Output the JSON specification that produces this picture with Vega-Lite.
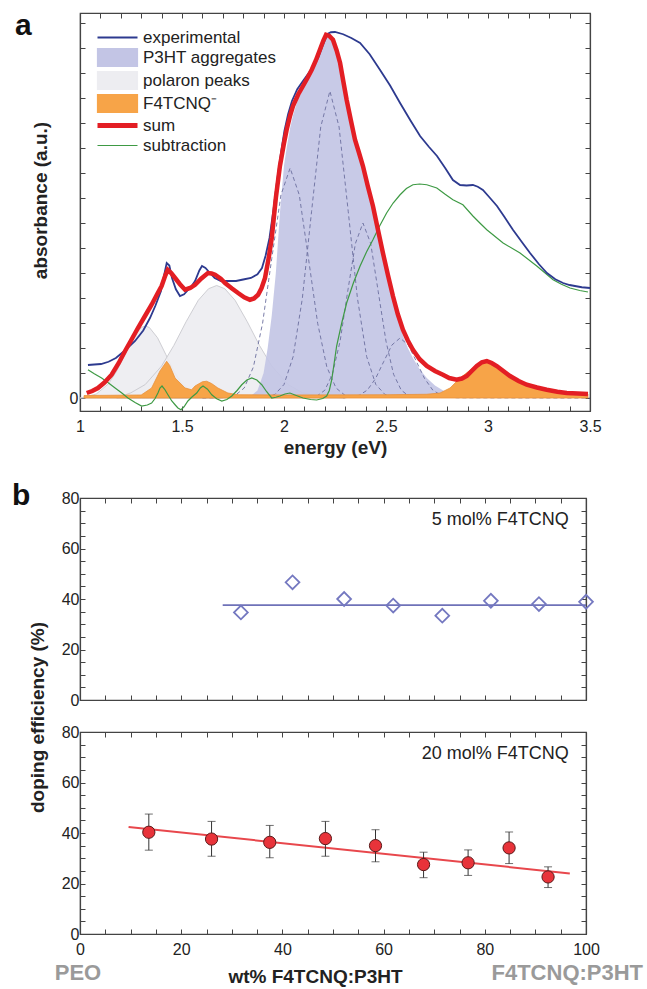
{
  "$schema": "https://vega.github.io/schema/vega-lite/v6.json",
  "background": "white",
  "padding": {"left": 11, "top": 9, "right": 0, "bottom": 0},
  "spacing": 22,
  "config": {
    "font": "Liberation Sans",
    "view": {"stroke": "#444", "strokeWidth": 1.2},
    "axis": {"domainColor": "#444", "domainWidth": 1.2, "tickColor": "#444", "tickWidth": 1, "grid": false, "minExtent": 0,
      "labelFont": "Liberation Sans", "titleFont": "Liberation Sans", "labelFontSize": 16, "titleFontSize": 19,
      "labelColor": "#222", "titleColor": "#222", "titleFontWeight": "bold", "labelOverlap": false, "labelFlush": false},
    "title": {"font": "Liberation Sans", "color": "#111"}
  },
  "datasets": {
    "exp": [
      {"x":1.039,"y":0.132},{"x":1.07,"y":0.134},{"x":1.103,"y":0.136},{"x":1.14,"y":0.145},{"x":1.176,"y":0.16},{"x":1.22,"y":0.19},{"x":1.27,"y":0.228},{"x":1.31,"y":0.27},{"x":1.343,"y":0.32},{"x":1.37,"y":0.37},{"x":1.397,"y":0.428},{"x":1.412,"y":0.49},{"x":1.425,"y":0.54},{"x":1.438,"y":0.53},{"x":1.451,"y":0.48},{"x":1.47,"y":0.435},{"x":1.49,"y":0.408},{"x":1.51,"y":0.415},{"x":1.525,"y":0.428},{"x":1.545,"y":0.445},{"x":1.564,"y":0.468},{"x":1.585,"y":0.51},{"x":1.598,"y":0.528},{"x":1.615,"y":0.52},{"x":1.637,"y":0.5},{"x":1.66,"y":0.48},{"x":1.691,"y":0.468},{"x":1.73,"y":0.468},{"x":1.765,"y":0.468},{"x":1.8,"y":0.474},{"x":1.838,"y":0.48},{"x":1.87,"y":0.495},{"x":1.892,"y":0.52},{"x":1.91,"y":0.57},{"x":1.929,"y":0.64},{"x":1.948,"y":0.75},{"x":1.966,"y":0.868},{"x":1.985,"y":0.98},{"x":2.002,"y":1.068},{"x":2.02,"y":1.135},{"x":2.039,"y":1.188},{"x":2.065,"y":1.235},{"x":2.093,"y":1.268},{"x":2.13,"y":1.31},{"x":2.167,"y":1.36},{"x":2.19,"y":1.41},{"x":2.213,"y":1.456},{"x":2.23,"y":1.463},{"x":2.25,"y":1.464},{"x":2.29,"y":1.455},{"x":2.33,"y":1.44},{"x":2.373,"y":1.42},{"x":2.42,"y":1.375},{"x":2.471,"y":1.312},{"x":2.52,"y":1.25},{"x":2.569,"y":1.18},{"x":2.62,"y":1.11},{"x":2.667,"y":1.048},{"x":2.71,"y":1.005},{"x":2.75,"y":0.968},{"x":2.79,"y":0.92},{"x":2.828,"y":0.872},{"x":2.863,"y":0.852},{"x":2.895,"y":0.85},{"x":2.926,"y":0.852},{"x":2.95,"y":0.845},{"x":2.975,"y":0.832},{"x":3.01,"y":0.8},{"x":3.044,"y":0.768},{"x":3.08,"y":0.725},{"x":3.123,"y":0.672},{"x":3.165,"y":0.625},{"x":3.206,"y":0.58},{"x":3.25,"y":0.535},{"x":3.289,"y":0.5},{"x":3.33,"y":0.475},{"x":3.368,"y":0.46},{"x":3.4,"y":0.452},{"x":3.426,"y":0.448},{"x":3.46,"y":0.443},{"x":3.5,"y":0.44}
    ],
    "sum": [
      {"x":1.033,"y":0.02},{"x":1.06,"y":0.028},{"x":1.088,"y":0.04},{"x":1.12,"y":0.062},{"x":1.155,"y":0.093},{"x":1.19,"y":0.14},{"x":1.221,"y":0.188},{"x":1.25,"y":0.23},{"x":1.284,"y":0.28},{"x":1.32,"y":0.33},{"x":1.351,"y":0.373},{"x":1.38,"y":0.418},{"x":1.4,"y":0.448},{"x":1.418,"y":0.49},{"x":1.43,"y":0.513},{"x":1.447,"y":0.5},{"x":1.466,"y":0.48},{"x":1.49,"y":0.455},{"x":1.515,"y":0.433},{"x":1.54,"y":0.44},{"x":1.564,"y":0.453},{"x":1.595,"y":0.478},{"x":1.627,"y":0.5},{"x":1.645,"y":0.498},{"x":1.662,"y":0.493},{"x":1.69,"y":0.477},{"x":1.711,"y":0.46},{"x":1.745,"y":0.438},{"x":1.775,"y":0.42},{"x":1.805,"y":0.403},{"x":1.833,"y":0.393},{"x":1.853,"y":0.398},{"x":1.873,"y":0.413},{"x":1.89,"y":0.44},{"x":1.907,"y":0.48},{"x":1.925,"y":0.56},{"x":1.94,"y":0.64},{"x":1.96,"y":0.8},{"x":1.98,"y":0.928},{"x":2.0,"y":1.02},{"x":2.013,"y":1.073},{"x":2.03,"y":1.13},{"x":2.044,"y":1.168},{"x":2.07,"y":1.215},{"x":2.093,"y":1.248},{"x":2.115,"y":1.28},{"x":2.136,"y":1.313},{"x":2.156,"y":1.35},{"x":2.176,"y":1.393},{"x":2.193,"y":1.43},{"x":2.206,"y":1.453},{"x":2.222,"y":1.448},{"x":2.24,"y":1.433},{"x":2.258,"y":1.39},{"x":2.275,"y":1.34},{"x":2.29,"y":1.27},{"x":2.307,"y":1.193},{"x":2.328,"y":1.11},{"x":2.348,"y":1.033},{"x":2.368,"y":0.98},{"x":2.387,"y":0.928},{"x":2.41,"y":0.85},{"x":2.436,"y":0.768},{"x":2.46,"y":0.675},{"x":2.485,"y":0.58},{"x":2.51,"y":0.49},{"x":2.534,"y":0.408},{"x":2.558,"y":0.335},{"x":2.583,"y":0.273},{"x":2.607,"y":0.23},{"x":2.632,"y":0.193},{"x":2.665,"y":0.155},{"x":2.7,"y":0.128},{"x":2.74,"y":0.108},{"x":2.779,"y":0.093},{"x":2.81,"y":0.08},{"x":2.846,"y":0.073},{"x":2.872,"y":0.078},{"x":2.896,"y":0.088},{"x":2.92,"y":0.108},{"x":2.945,"y":0.128},{"x":2.97,"y":0.143},{"x":2.994,"y":0.148},{"x":3.018,"y":0.14},{"x":3.043,"y":0.128},{"x":3.075,"y":0.108},{"x":3.108,"y":0.088},{"x":3.15,"y":0.068},{"x":3.19,"y":0.053},{"x":3.24,"y":0.042},{"x":3.288,"y":0.033},{"x":3.34,"y":0.025},{"x":3.386,"y":0.02},{"x":3.44,"y":0.018},{"x":3.49,"y":0.016}
    ],
    "sub": [
      {"x":1.039,"y":0.113},{"x":1.07,"y":0.097},{"x":1.106,"y":0.08},{"x":1.14,"y":0.06},{"x":1.172,"y":0.04},{"x":1.205,"y":0.02},{"x":1.235,"y":0.0},{"x":1.27,"y":-0.018},{"x":1.302,"y":-0.032},{"x":1.33,"y":-0.028},{"x":1.351,"y":-0.02},{"x":1.368,"y":-0.002},{"x":1.382,"y":0.02},{"x":1.392,"y":0.04},{"x":1.402,"y":0.048},{"x":1.415,"y":0.035},{"x":1.431,"y":0.013},{"x":1.45,"y":-0.012},{"x":1.466,"y":-0.027},{"x":1.48,"y":-0.04},{"x":1.495,"y":-0.047},{"x":1.51,"y":-0.035},{"x":1.529,"y":-0.012},{"x":1.55,"y":0.005},{"x":1.572,"y":0.02},{"x":1.59,"y":0.04},{"x":1.603,"y":0.048},{"x":1.625,"y":0.035},{"x":1.646,"y":0.013},{"x":1.67,"y":-0.003},{"x":1.695,"y":-0.012},{"x":1.72,"y":-0.006},{"x":1.744,"y":0.008},{"x":1.77,"y":0.03},{"x":1.793,"y":0.053},{"x":1.818,"y":0.072},{"x":1.842,"y":0.08},{"x":1.867,"y":0.072},{"x":1.891,"y":0.053},{"x":1.915,"y":0.025},{"x":1.94,"y":0.0},{"x":1.96,"y":0.003},{"x":1.98,"y":0.008},{"x":2.005,"y":0.016},{"x":2.029,"y":0.02},{"x":2.06,"y":0.01},{"x":2.093,"y":0.0},{"x":2.13,"y":-0.006},{"x":2.16,"y":-0.008},{"x":2.19,"y":-0.002},{"x":2.209,"y":0.008},{"x":2.222,"y":0.03},{"x":2.234,"y":0.073},{"x":2.246,"y":0.14},{"x":2.258,"y":0.208},{"x":2.283,"y":0.3},{"x":2.307,"y":0.38},{"x":2.34,"y":0.46},{"x":2.373,"y":0.528},{"x":2.405,"y":0.585},{"x":2.436,"y":0.633},{"x":2.47,"y":0.69},{"x":2.503,"y":0.74},{"x":2.535,"y":0.78},{"x":2.569,"y":0.813},{"x":2.6,"y":0.838},{"x":2.632,"y":0.853},{"x":2.665,"y":0.856},{"x":2.7,"y":0.853},{"x":2.749,"y":0.84},{"x":2.79,"y":0.815},{"x":2.828,"y":0.793},{"x":2.877,"y":0.773},{"x":2.926,"y":0.728},{"x":2.96,"y":0.7},{"x":2.994,"y":0.673},{"x":3.074,"y":0.62},{"x":3.157,"y":0.58},{"x":3.239,"y":0.528},{"x":3.319,"y":0.473},{"x":3.36,"y":0.455},{"x":3.402,"y":0.44},{"x":3.45,"y":0.43},{"x":3.49,"y":0.424}
    ],
    "p3ht": [
      {"x":1.8,"y":0.0},{"x":1.84,"y":0.01},{"x":1.87,"y":0.03},{"x":1.9,"y":0.1},{"x":1.92,"y":0.2},{"x":1.94,"y":0.33},{"x":1.96,"y":0.5},{"x":1.98,"y":0.74},{"x":2.0,"y":0.93},{"x":2.013,"y":1.0},{"x":2.03,"y":1.08},{"x":2.044,"y":1.13},{"x":2.07,"y":1.2},{"x":2.093,"y":1.235},{"x":2.115,"y":1.27},{"x":2.136,"y":1.3},{"x":2.156,"y":1.34},{"x":2.176,"y":1.385},{"x":2.193,"y":1.425},{"x":2.206,"y":1.445},{"x":2.222,"y":1.44},{"x":2.24,"y":1.425},{"x":2.258,"y":1.385},{"x":2.275,"y":1.335},{"x":2.29,"y":1.265},{"x":2.307,"y":1.19},{"x":2.328,"y":1.105},{"x":2.348,"y":1.03},{"x":2.368,"y":0.975},{"x":2.387,"y":0.92},{"x":2.41,"y":0.845},{"x":2.436,"y":0.76},{"x":2.46,"y":0.67},{"x":2.485,"y":0.57},{"x":2.51,"y":0.48},{"x":2.534,"y":0.39},{"x":2.558,"y":0.32},{"x":2.583,"y":0.25},{"x":2.607,"y":0.2},{"x":2.632,"y":0.16},{"x":2.665,"y":0.115},{"x":2.7,"y":0.08},{"x":2.74,"y":0.05},{"x":2.78,"y":0.03},{"x":2.82,"y":0.015},{"x":2.87,"y":0.005},{"x":2.95,"y":0.0}
    ],
    "polaron": [
      {"p":1,"x":1.0,"y":0},{"p":1,"x":1.02,"y":0.003},{"p":1,"x":1.08,"y":0.016},{"p":1,"x":1.14,"y":0.057},{"p":1,"x":1.18,"y":0.108},{"p":1,"x":1.22,"y":0.175},{"p":1,"x":1.26,"y":0.241},{"p":1,"x":1.3,"y":0.282},{"p":1,"x":1.32,"y":0.288},{"p":1,"x":1.34,"y":0.282},{"p":1,"x":1.38,"y":0.241},{"p":1,"x":1.42,"y":0.175},{"p":1,"x":1.46,"y":0.108},{"p":1,"x":1.5,"y":0.057},{"p":1,"x":1.56,"y":0.016},{"p":1,"x":1.62,"y":0.003},{"p":1,"x":1.7,"y":0},
      {"p":2,"x":1.18,"y":0},{"p":2,"x":1.25,"y":0.021},{"p":2,"x":1.32,"y":0.054},{"p":2,"x":1.4,"y":0.128},{"p":2,"x":1.46,"y":0.21},{"p":2,"x":1.52,"y":0.305},{"p":2,"x":1.58,"y":0.391},{"p":2,"x":1.63,"y":0.437},{"p":2,"x":1.67,"y":0.45},{"p":2,"x":1.71,"y":0.437},{"p":2,"x":1.76,"y":0.391},{"p":2,"x":1.82,"y":0.305},{"p":2,"x":1.88,"y":0.21},{"p":2,"x":1.94,"y":0.128},{"p":2,"x":2.02,"y":0.054},{"p":2,"x":2.09,"y":0.021},{"p":2,"x":2.18,"y":0.006},{"p":2,"x":2.3,"y":0}
    ],
    "gauss": [
      {"g":1,"x":1.6,"y":0},{"g":1,"x":1.715,"y":0.002},{"g":1,"x":1.76,"y":0.01},{"g":1,"x":1.805,"y":0.04},{"g":1,"x":1.85,"y":0.124},{"g":1,"x":1.895,"y":0.299},{"g":1,"x":1.94,"y":0.558},{"g":1,"x":1.985,"y":0.812},{"g":1,"x":2.03,"y":0.92},{"g":1,"x":2.075,"y":0.812},{"g":1,"x":2.12,"y":0.558},{"g":1,"x":2.165,"y":0.299},{"g":1,"x":2.21,"y":0.124},{"g":1,"x":2.255,"y":0.04},{"g":1,"x":2.3,"y":0.01},{"g":1,"x":2.345,"y":0.002},
      {"g":2,"x":1.91,"y":0.003},{"g":2,"x":1.955,"y":0.014},{"g":2,"x":2.0,"y":0.054},{"g":2,"x":2.045,"y":0.166},{"g":2,"x":2.09,"y":0.399},{"g":2,"x":2.135,"y":0.745},{"g":2,"x":2.18,"y":1.084},{"g":2,"x":2.225,"y":1.228},{"g":2,"x":2.27,"y":1.084},{"g":2,"x":2.315,"y":0.745},{"g":2,"x":2.36,"y":0.399},{"g":2,"x":2.405,"y":0.166},{"g":2,"x":2.45,"y":0.054},{"g":2,"x":2.495,"y":0.014},{"g":2,"x":2.54,"y":0.003},
      {"g":3,"x":2.125,"y":0.002},{"g":3,"x":2.162,"y":0.008},{"g":3,"x":2.2,"y":0.031},{"g":3,"x":2.237,"y":0.095},{"g":3,"x":2.275,"y":0.227},{"g":3,"x":2.312,"y":0.425},{"g":3,"x":2.35,"y":0.618},{"g":3,"x":2.387,"y":0.7},{"g":3,"x":2.425,"y":0.618},{"g":3,"x":2.462,"y":0.425},{"g":3,"x":2.5,"y":0.227},{"g":3,"x":2.537,"y":0.095},{"g":3,"x":2.575,"y":0.031},{"g":3,"x":2.612,"y":0.008},{"g":3,"x":2.65,"y":0.002},
      {"g":4,"x":2.289,"y":0.001},{"g":4,"x":2.329,"y":0.003},{"g":4,"x":2.369,"y":0.011},{"g":4,"x":2.409,"y":0.032},{"g":4,"x":2.449,"y":0.078},{"g":4,"x":2.489,"y":0.146},{"g":4,"x":2.529,"y":0.212},{"g":4,"x":2.569,"y":0.24},{"g":4,"x":2.609,"y":0.212},{"g":4,"x":2.649,"y":0.146},{"g":4,"x":2.689,"y":0.078},{"g":4,"x":2.729,"y":0.032},{"g":4,"x":2.769,"y":0.011},{"g":4,"x":2.809,"y":0.003},{"g":4,"x":2.849,"y":0.001},{"g":4,"x":3.5,"y":0}
    ],
    "f4": [
      {"x":1.02,"y":0.01},{"x":1.3,"y":0.012},{"x":1.351,"y":0.04},{"x":1.392,"y":0.108},{"x":1.425,"y":0.147},{"x":1.44,"y":0.13},{"x":1.466,"y":0.08},{"x":1.515,"y":0.04},{"x":1.547,"y":0.033},{"x":1.564,"y":0.048},{"x":1.6,"y":0.065},{"x":1.621,"y":0.067},{"x":1.645,"y":0.058},{"x":1.676,"y":0.04},{"x":1.725,"y":0.02},{"x":1.775,"y":0.013},{"x":2.0,"y":0.012},{"x":2.5,"y":0.013},{"x":2.7,"y":0.015},{"x":2.765,"y":0.02},{"x":2.814,"y":0.04},{"x":2.863,"y":0.08},{"x":2.926,"y":0.12},{"x":2.994,"y":0.147},{"x":3.02,"y":0.14},{"x":3.059,"y":0.113},{"x":3.141,"y":0.073},{"x":3.221,"y":0.048},{"x":3.319,"y":0.028},{"x":3.417,"y":0.02},{"x":3.49,"y":0.016}
    ],
    "fit5": [{"x":28.2,"y":37.6},{"x":100,"y":37.6}],
    "pts5": [{"x":31.8,"y":34.7},{"x":42.0,"y":46.6},{"x":52.2,"y":40.0},{"x":61.9,"y":37.4},{"x":71.6,"y":33.4},{"x":81.2,"y":39.3},{"x":90.7,"y":38.0},{"x":100,"y":38.9}],
    "fit20": [{"x":9.6,"y":42.4},{"x":96.8,"y":24.0}],
    "pts20": [{"x":13.6,"y":40.3,"lo":33.2,"hi":47.5},{"x":26.0,"y":37.6,"lo":30.8,"hi":44.6},{"x":37.5,"y":36.3,"lo":30.2,"hi":43.0},{"x":48.5,"y":37.8,"lo":30.8,"hi":44.6},{"x":58.4,"y":35.0,"lo":28.6,"hi":41.3},{"x":67.9,"y":27.5,"lo":22.3,"hi":32.4},{"x":76.7,"y":28.2,"lo":23.2,"hi":33.3},{"x":84.8,"y":34.1,"lo":27.9,"hi":40.4},{"x":92.5,"y":22.6,"lo":18.4,"hi":26.6}],
    "ends": [{"label":"PEO","x":-0.4,"y":-15.4},{"label":"F4TCNQ:P3HT","x":96.3,"y":-15.4}]
  },
  "vconcat": [
    {
      "width": 510,
      "height": 398,
      "title": {"text": "a", "anchor": "start", "frame": "group", "orient": "top", "offset": -32, "dx": -65, "dy": 20, "baseline": "alphabetic", "fontSize": 30, "fontWeight": "bold"},
      "resolve": {"axis": {"x": "independent", "y": "independent"}},
      "layer": [
        {
          "data": {"name": "polaron"},
          "mark": {"type": "area", "stroke": "#c9c9cf", "strokeWidth": 1, "opacity": 0.9},
          "encoding": {
            "x": {"field": "x", "type": "quantitative", "scale": {"domain": [1, 3.5], "nice": false, "zero": false}, "axis": null},
            "y": {"field": "y", "type": "quantitative", "stack": null, "scale": {"domain": [-0.052, 1.54], "nice": false, "zero": false}, "axis": null},
            "detail": {"field": "p"},
            "color": {"datum": "polaron peaks"}
          }
        },
        {
          "data": {"name": "p3ht"},
          "mark": {"type": "area", "opacity": 0.92},
          "encoding": {
            "x": {"field": "x", "type": "quantitative", "scale": {"domain": [1, 3.5], "nice": false, "zero": false}, "axis": null},
            "y": {"field": "y", "type": "quantitative", "stack": null, "scale": {"domain": [-0.052, 1.54], "nice": false, "zero": false}, "axis": null},
            "color": {"datum": "P3HT aggregates"}
          }
        },
        {
          "data": {"name": "gauss"},
          "mark": {"type": "line", "color": "#6b6e9e", "strokeWidth": 0.9, "strokeDash": [4, 3]},
          "encoding": {
            "x": {"field": "x", "type": "quantitative", "scale": {"domain": [1, 3.5], "nice": false, "zero": false}, "axis": null},
            "y": {"field": "y", "type": "quantitative", "scale": {"domain": [-0.052, 1.54], "nice": false, "zero": false}, "axis": null},
            "detail": {"field": "g"}
          }
        },
        {
          "data": {"name": "f4"},
          "mark": {"type": "area", "stroke": "#e8913a", "strokeWidth": 0.8},
          "encoding": {
            "x": {"field": "x", "type": "quantitative", "scale": {"domain": [1, 3.5], "nice": false, "zero": false}, "axis": null},
            "y": {"field": "y", "type": "quantitative", "stack": null, "scale": {"domain": [-0.052, 1.54], "nice": false, "zero": false}, "axis": null},
            "color": {"datum": "F4TCNQ\u207b"}
          }
        },
        {
          "data": {"name": "sub"},
          "mark": {"type": "line", "strokeWidth": 1.2},
          "encoding": {
            "x": {"field": "x", "type": "quantitative", "scale": {"domain": [1, 3.5], "nice": false, "zero": false}, "axis": null},
            "y": {"field": "y", "type": "quantitative", "scale": {"domain": [-0.052, 1.54], "nice": false, "zero": false}, "axis": null},
            "color": {"datum": "subtraction"}
          }
        },
        {
          "data": {"name": "exp"},
          "mark": {"type": "line", "strokeWidth": 1.8},
          "encoding": {
            "x": {"field": "x", "type": "quantitative", "scale": {"domain": [1, 3.5], "nice": false, "zero": false},
              "axis": {"orient": "bottom", "values": [1,1.1,1.2,1.3,1.4,1.5,1.6,1.7,1.8,1.9,2,2.1,2.2,2.3,2.4,2.5,2.6,2.7,2.8,2.9,3,3.1,3.2,3.3,3.4,3.5],
                "labelExpr": "abs(datum.value*2-round(datum.value*2))<0.01 ? format(datum.value,'~g') : ''",
                "tickSize": -5, "labelPadding": 12, "title": "energy (eV)", "titleX": 255, "titleY": 36, "titleAlign": "center", "titleBaseline": "middle"}},
            "y": {"field": "y", "type": "quantitative", "scale": {"domain": [-0.052, 1.54], "nice": false, "zero": false},
              "axis": {"orient": "left", "values": [0,0.1,0.2,0.3,0.4,0.5,0.6,0.7,0.8,0.9,1,1.1,1.2,1.3,1.4,1.5],
                "labelExpr": "datum.value == 0 ? '0' : ''", "tickSize": -5, "labelPadding": 7,
                "title": "absorbance (a.u.)", "titleX": -40, "titleY": 187, "titleAngle": 270, "titleAlign": "center", "titleBaseline": "middle"}},
            "color": {"datum": "experimental",
              "scale": {"domain": ["experimental", "P3HT aggregates", "polaron peaks", "F4TCNQ\u207b", "sum", "subtraction"],
                "range": ["#2d3a8f", "#c3c5e5", "#ededf1", "#f7a448", "#e31e24", "#3e9a44"]},
              "legend": {"orient": "none", "legendX": 29, "legendY": 16, "title": null, "padding": 0, "symbolSize": 1600, "labelFontSize": 17,
                "labelFont": "Liberation Sans", "labelColor": "#222", "labelOffset": 17, "rowPadding": 0, "symbolOpacity": 1,
                "encode": {"symbols": {"update": {
                  "shape": {"signal": "(datum.value=='experimental'||datum.value=='sum'||datum.value=='subtraction') ? 'M-1,0H1' : 'M-1,-0.45H1V0.45H-1Z'"},
                  "fill": {"signal": "datum.value=='P3HT aggregates' ? '#c3c5e5' : datum.value=='polaron peaks' ? '#efeff2' : (datum.value=='experimental'||datum.value=='sum'||datum.value=='subtraction') ? 'transparent' : '#f7a448'"},
                  "stroke": {"signal": "datum.value=='experimental' ? '#2d3a8f' : datum.value=='P3HT aggregates' ? '#d3d4ea' : datum.value=='polaron peaks' ? '#d6d6dc' : datum.value=='sum' ? '#e31e24' : datum.value=='subtraction' ? '#3e9a44' : '#7d6440'"},
                  "strokeWidth": {"signal": "datum.value=='sum' ? 5 : datum.value=='experimental' ? 2 : 1.2"},
                  "opacity": {"value": 1}
                }}}
              }}
          }
        },
        {
          "data": {"name": "sum"},
          "mark": {"type": "line", "strokeWidth": 4.5},
          "encoding": {
            "x": {"field": "x", "type": "quantitative", "scale": {"domain": [1, 3.5], "nice": false, "zero": false},
              "axis": {"orient": "top", "values": [1,1.1,1.2,1.3,1.4,1.5,1.6,1.7,1.8,1.9,2,2.1,2.2,2.3,2.4,2.5,2.6,2.7,2.8,2.9,3,3.1,3.2,3.3,3.4,3.5], "labels": false, "tickSize": -5, "title": null}},
            "y": {"field": "y", "type": "quantitative", "scale": {"domain": [-0.052, 1.54], "nice": false, "zero": false},
              "axis": {"orient": "right", "values": [0,0.1,0.2,0.3,0.4,0.5,0.6,0.7,0.8,0.9,1,1.1,1.2,1.3,1.4,1.5], "labels": false, "tickSize": -5, "title": null}},
            "color": {"datum": "sum"}
          }
        }
      ]
    },
    {
      "bounds": "flush",
      "spacing": 32,
      "vconcat": [
        {
          "width": 506,
          "height": 202,
          "title": {"text": "b", "anchor": "start", "frame": "group", "orient": "top", "offset": -38, "dx": -68, "dy": 7, "baseline": "alphabetic", "fontSize": 30, "fontWeight": "bold"},
          "resolve": {"axis": {"x": "independent", "y": "independent"}},
          "layer": [
            {
              "data": {"name": "fit5"},
              "mark": {"type": "line", "color": "#6f72b8", "strokeWidth": 1.8},
              "encoding": {
                "x": {"field": "x", "type": "quantitative", "scale": {"domain": [0, 100], "nice": false},
                  "axis": {"orient": "bottom", "values": [0,5,10,15,20,25,30,35,40,45,50,55,60,65,70,75,80,85,90,95,100], "labels": false, "tickSize": -5, "title": null}},
                "y": {"field": "y", "type": "quantitative", "scale": {"domain": [0, 80], "nice": false},
                  "axis": {"orient": "left", "values": [0,5,10,15,20,25,30,35,40,45,50,55,60,65,70,75,80], "labelExpr": "datum.value % 20 == 0 ? format(datum.value,'d') : ''", "tickSize": -5, "labelPadding": 6, "title": null}}
              }
            },
            {
              "data": {"name": "pts5"},
              "mark": {"type": "point", "shape": "diamond", "filled": false, "color": "#7478c0", "strokeWidth": 1.8, "size": 190, "opacity": 1},
              "encoding": {
                "x": {"field": "x", "type": "quantitative", "scale": {"domain": [0, 100], "nice": false},
                  "axis": {"orient": "top", "values": [0,5,10,15,20,25,30,35,40,45,50,55,60,65,70,75,80,85,90,95,100], "labels": false, "tickSize": -5, "title": null}},
                "y": {"field": "y", "type": "quantitative", "scale": {"domain": [0, 80], "nice": false},
                  "axis": {"orient": "right", "values": [0,5,10,15,20,25,30,35,40,45,50,55,60,65,70,75,80], "labels": false, "tickSize": -5, "title": null}}
              }
            },
            {
              "data": {"values": [{"label": "5 mol% F4TCNQ", "x": 96.6, "y": 71.2}]},
              "mark": {"type": "text", "align": "right", "baseline": "middle", "fontSize": 18, "color": "#222", "font": "Liberation Sans"},
              "encoding": {
                "x": {"field": "x", "type": "quantitative", "scale": {"domain": [0, 100], "nice": false}, "axis": null},
                "y": {"field": "y", "type": "quantitative", "scale": {"domain": [0, 80], "nice": false}, "axis": null},
                "text": {"field": "label"}
              }
            }
          ]
        },
        {
          "width": 506,
          "height": 202,
          "resolve": {"axis": {"x": "independent", "y": "independent"}},
          "layer": [
            {
              "data": {"name": "fit20"},
              "mark": {"type": "line", "color": "#e8474c", "strokeWidth": 2},
              "encoding": {
                "x": {"field": "x", "type": "quantitative", "scale": {"domain": [0, 100], "nice": false},
                  "axis": {"orient": "bottom", "values": [0,5,10,15,20,25,30,35,40,45,50,55,60,65,70,75,80,85,90,95,100], "labelExpr": "datum.value % 20 == 0 ? format(datum.value,'d') : ''", "tickSize": -5, "labelPadding": 12,
                    "title": "wt% F4TCNQ:P3HT", "titleX": 235, "titleY": 42, "titleAlign": "center", "titleBaseline": "middle"}},
                "y": {"field": "y", "type": "quantitative", "scale": {"domain": [0, 80], "nice": false},
                  "axis": {"orient": "left", "values": [0,5,10,15,20,25,30,35,40,45,50,55,60,65,70,75,80], "labelExpr": "datum.value % 20 == 0 ? format(datum.value,'d') : ''", "tickSize": -5, "labelPadding": 6,
                    "title": "doping efficiency (%)", "titleX": -43, "titleY": -15, "titleAngle": 270, "titleAlign": "center", "titleBaseline": "middle"}}
              }
            },
            {
              "data": {"name": "pts20"},
              "mark": {"type": "errorbar", "color": "#333", "thickness": 1, "ticks": {"size": 8, "thickness": 1, "color": "#333"}},
              "encoding": {
                "x": {"field": "x", "type": "quantitative", "scale": {"domain": [0, 100], "nice": false}, "axis": null},
                "y": {"field": "lo", "type": "quantitative", "scale": {"domain": [0, 80], "nice": false}, "axis": null},
                "y2": {"field": "hi"}
              }
            },
            {
              "data": {"name": "pts20"},
              "mark": {"type": "point", "shape": "circle", "filled": true, "fill": "#e8333a", "stroke": "#5a1a1a", "strokeWidth": 1, "size": 150, "opacity": 1},
              "encoding": {
                "x": {"field": "x", "type": "quantitative", "scale": {"domain": [0, 100], "nice": false},
                  "axis": {"orient": "top", "values": [0,5,10,15,20,25,30,35,40,45,50,55,60,65,70,75,80,85,90,95,100], "labels": false, "tickSize": -5, "title": null}},
                "y": {"field": "y", "type": "quantitative", "scale": {"domain": [0, 80], "nice": false},
                  "axis": {"orient": "right", "values": [0,5,10,15,20,25,30,35,40,45,50,55,60,65,70,75,80], "labels": false, "tickSize": -5, "title": null}}
              }
            },
            {
              "data": {"values": [{"label": "20 mol% F4TCNQ", "x": 96.6, "y": 71.3}]},
              "mark": {"type": "text", "align": "right", "baseline": "middle", "fontSize": 18, "color": "#222", "font": "Liberation Sans"},
              "encoding": {
                "x": {"field": "x", "type": "quantitative", "scale": {"domain": [0, 100], "nice": false}, "axis": null},
                "y": {"field": "y", "type": "quantitative", "scale": {"domain": [0, 80], "nice": false}, "axis": null},
                "text": {"field": "label"}
              }
            },
            {
              "data": {"name": "ends"},
              "mark": {"type": "text", "align": "center", "baseline": "middle", "fontSize": 22, "fontWeight": "bold", "color": "#9a9a9a", "font": "Liberation Sans"},
              "encoding": {
                "x": {"field": "x", "type": "quantitative", "scale": {"domain": [0, 100], "nice": false}, "axis": null},
                "y": {"field": "y", "type": "quantitative", "scale": {"domain": [0, 80], "nice": false}, "axis": null},
                "text": {"field": "label"}
              }
            }
          ]
        }
      ]
    }
  ]
}
